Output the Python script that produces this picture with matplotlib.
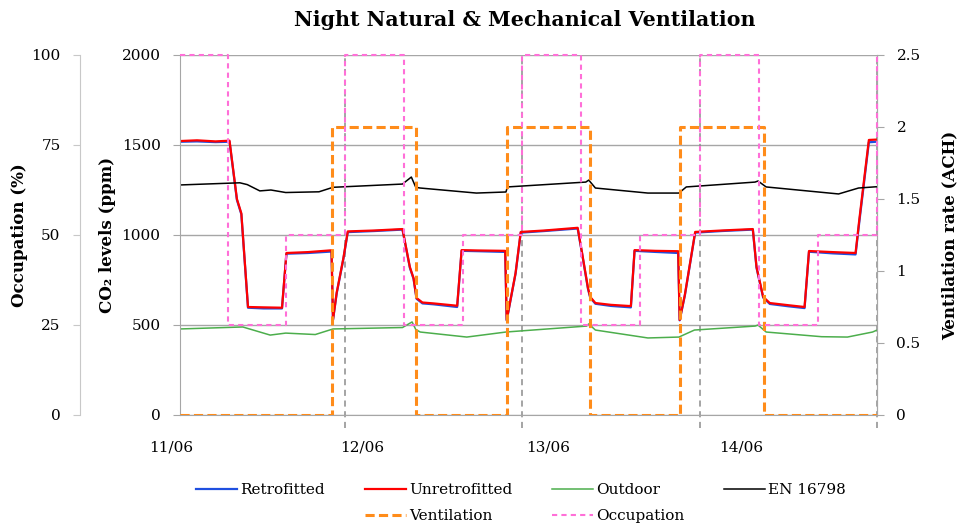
import matplotlib
matplotlib.use("Agg")
import matplotlib.pyplot as plt
from matplotlib.lines import Line2D
from matplotlib.ticker import FuncFormatter, MultipleLocator

# tiempo en horas desde 11/06 00:00
co2_hours = [1.7, 4.0, 6.5, 8.4, 9.4, 10.0, 10.9, 13.0, 15.5, 16.1, 19.0, 22.2,
             22.4, 22.9, 23.8, 24.4, 28.0, 31.8, 32.8, 33.3, 33.7, 34.5, 36.0,
             39.2, 39.8, 42.0, 45.7, 45.9, 47.1, 47.8, 51.0, 55.5, 56.1, 56.9,
             57.2, 57.9, 60.0, 62.7, 63.2, 66.0, 69.1, 69.3, 70.0, 71.4, 75.0,
             79.2, 79.7, 80.6, 81.5, 84.0, 86.2, 86.8, 90.0, 93.1, 93.6, 94.9, 95.9]
unretrofitted = [1522, 1526, 1520, 1524, 1200, 1120, 600, 598, 596, 900, 905, 915,
                 530, 680, 870, 1020, 1025, 1033, 822, 760, 650, 625, 620,
                 607, 916, 914, 912, 528, 789, 1017, 1025, 1040, 900, 705,
                 656, 622, 612, 605, 916, 912, 910, 528, 667, 1017, 1025,
                 1033, 822, 656, 622, 610, 600, 911, 905, 900, 1083, 1528, 1530]
retrofitted = [1518, 1520, 1516, 1518, 1195, 1115, 596, 592, 592, 896, 900, 908,
               528, 676, 866, 1016, 1022, 1030, 818, 756, 646, 620, 615,
               600, 912, 910, 906, 526, 785, 1013, 1022, 1036, 896, 700,
               652, 618, 606, 598, 912, 906, 900, 526, 663, 1013, 1022,
               1030, 818, 652, 617, 604, 594, 907, 898, 892, 1070, 1515, 1518]

en_hours = [1.7, 9.8, 10.8, 12.5, 14.0, 16.0, 20.5, 22.4, 31.8, 33.0, 33.6, 34.2,
            41.8, 45.8, 46.0, 56.6, 57.0, 57.9, 65.0, 69.2, 70.2, 79.5, 79.9,
            81.0, 90.8, 93.5, 95.9]
en16798 = [1278, 1290, 1280, 1245, 1250, 1236, 1240, 1265, 1283, 1322, 1265, 1261,
           1233, 1239, 1267, 1294, 1305, 1261, 1233, 1233, 1267, 1294, 1300,
           1267, 1228, 1261, 1268]

out_hours = [1.7, 10.2, 13.9, 16.0, 20.0, 22.4, 31.8, 33.1, 33.6, 34.2, 40.5,
             45.8, 56.7, 57.0, 57.9, 65.0, 69.2, 71.3, 79.5, 79.9, 81.0, 88.5,
             92.0, 95.4, 95.9]
outdoor = [478, 489, 444, 455, 447, 478, 486, 517, 475, 461, 433,
           461, 494, 506, 472, 428, 433, 472, 494, 500, 461, 435,
           433, 461, 470]

vent_hours = [1.7, 22.3, 33.6, 45.9, 57.2, 69.3, 80.7, 96.0]
vent_ach = [0, 2, 0, 2, 0, 2, 0, 0]

occ_hours = [1.7, 8.2, 16, 24, 32, 40, 48, 56, 64, 72, 80, 88, 96]
occ_pct = [100, 25, 50, 100, 25, 50, 100, 25, 50, 100, 25, 50, 100]

day_lines = [24, 48, 72, 96]
date_pos = [0.45, 26.4, 51.5, 77.6]
date_labels = ["11/06", "12/06", "13/06", "14/06"]

plt.rcParams["font.family"] = ["DejaVu Serif"]
plt.rcParams["font.size"] = 11
GRID = "#a6a6a6"

fig = plt.figure(figsize=(9.57, 5.32), dpi=100)
ax = fig.add_axes([180 / 957, 1 - 415 / 532, 697 / 957, 360 / 532])
ax_vent = ax.twinx()
ax_occ = ax.twinx()

# CO2
ax.plot(co2_hours, retrofitted, color="#1f4fe0", lw=1.6, label="Retrofitted")
ax.plot(co2_hours, unretrofitted, color="#ff0000", lw=1.6, label="Unretrofitted")
ax.plot(out_hours, outdoor, color="#4cae4c", lw=1.1, label="Outdoor")
ax.plot(en_hours, en16798, color="black", lw=1.1, label="EN 16798")
ax.set_xlim(1.7, 96)
ax.set_ylim(0, 2000)
ax.yaxis.set_major_locator(MultipleLocator(500))
ax.yaxis.grid(True, color=GRID, lw=1)
ax.set_axisbelow(True)
ax.set_xticks([])
for x in day_lines:
    ax.axvline(x, ymin=-0.035, ymax=1, color="#8c8c8c", lw=1.1,
               ls=(0, (4, 3)), clip_on=False, zorder=1)
for x, t in zip(date_pos, date_labels):
    ax.text(x, -0.09, t, transform=ax.get_xaxis_transform(),
            ha="center", va="center", fontsize=11)
for s in ["left", "bottom", "right"]:
    ax.spines[s].set_color(GRID)
ax.spines["top"].set_visible(False)
ax.tick_params(axis="y", colors=GRID, labelcolor="black", length=5, pad=9)
ax.set_ylabel("CO₂ levels (ppm)", fontsize=12, fontweight="bold")
ax.yaxis.set_label_coords(-0.092, 0.5)

# ventilacion
ax_vent.plot(vent_hours, vent_ach, drawstyle="steps-post", color="#ff8c1a",
             lw=2.2, ls=(0, (3, 1.4)), label="Ventilation")
ax_vent.set_ylim(0, 2.5)
ax_vent.yaxis.set_major_locator(MultipleLocator(0.5))
ax_vent.yaxis.set_major_formatter(FuncFormatter(lambda v, p: f"{v:g}"))
for s in ["left", "top", "bottom"]:
    ax_vent.spines[s].set_visible(False)
ax_vent.spines["right"].set_color(GRID)
ax_vent.tick_params(axis="y", colors=GRID, labelcolor="black", length=5, pad=9)
ax_vent.set_ylabel("Ventilation rate (ACH)", fontsize=12, fontweight="bold")
ax_vent.yaxis.set_label_coords(1.093, 0.5)

# ocupacion
ax_occ.plot(occ_hours, occ_pct, drawstyle="steps-post", color="#ff6fd8",
            lw=1.5, ls=(0, (2.5, 2)), clip_on=False, label="Occupation")
ax_occ.set_ylim(0, 100)
ax_occ.yaxis.set_major_locator(MultipleLocator(25))
ax_occ.spines["left"].set_position(("axes", -100 / 697))
ax_occ.spines["left"].set_visible(True)
ax_occ.spines["left"].set_color("#c8c8c8")
for s in ["right", "top", "bottom"]:
    ax_occ.spines[s].set_visible(False)
ax_occ.yaxis.set_ticks_position("left")
ax_occ.yaxis.set_label_position("left")
ax_occ.tick_params(axis="y", colors="#c8c8c8", labelcolor="black", length=5, pad=9)
ax_occ.set_ylabel("Occupation (%)", fontsize=12, fontweight="bold")
ax_occ.yaxis.set_label_coords(-0.218, 0.5)

fig.text(525 / 957, 1 - 20 / 532, "Night Natural & Mechanical Ventilation",
         ha="center", va="center", fontsize=14.8, fontweight="bold")

blank = Line2D([], [], color="none")
h = {l.get_label(): l for a in (ax, ax_vent, ax_occ) for l in a.get_lines()
     if not l.get_label().startswith("_")}
handles = [h["Retrofitted"], blank, h["Unretrofitted"], h["Ventilation"],
           h["Outdoor"], h["Occupation"], h["EN 16798"], blank]
labels = ["Retrofitted", "", "Unretrofitted", "Ventilation",
          "Outdoor", "Occupation", "EN 16798", ""]
fig.legend(handles, labels, loc="center", bbox_to_anchor=(521 / 957, 1 - 503 / 532),
           ncol=4, frameon=False, fontsize=11, handlelength=2.7,
           handletextpad=0.2, columnspacing=2.6, labelspacing=0.8)

fig.savefig("out.png", dpi=100)
